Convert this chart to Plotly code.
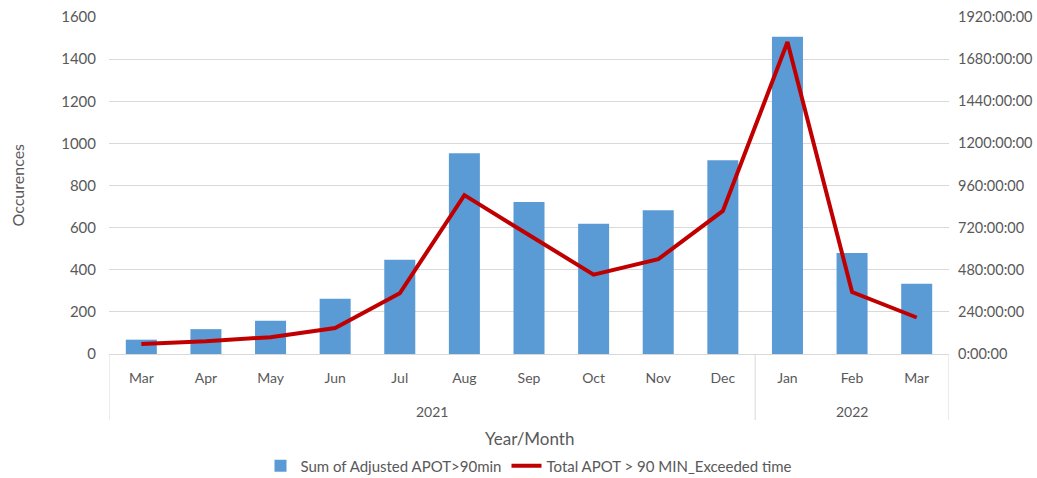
import plotly.graph_objects as go

years = ["2021"] * 10 + ["2022"] * 3
months = ["Mar", "Apr", "May", "Jun", "Jul", "Aug", "Sep", "Oct", "Nov", "Dec", "Jan", "Feb", "Mar"]
occurrences = [68, 118, 158, 262, 447, 953, 722, 618, 683, 920, 1506, 480, 333]
exceeded_hours = [57, 72, 96, 148, 346, 905, 678, 452, 540, 815, 1778, 353, 208]
right_ticks = [0, 240, 480, 720, 960, 1200, 1440, 1680, 1920]
left_ticks = [0, 200, 400, 600, 800, 1000, 1200, 1400, 1600]

FONT = "Lato, Open Sans, sans-serif"
GRAY = "#595959"
GRID = "#D9D9D9"

W, H = 1037, 478
L, R, T, B = 109, 88, 17, 124
plot_h = H - T - B

cats = [f"{m} {y}" for m, y in zip(months, years)]

fig = go.Figure()
fig.add_trace(go.Bar(
    x=cats, y=occurrences,
    name="Sum of Adjusted APOT>90min",
    marker=dict(color="#5B9BD5", line=dict(width=0)),
    width=0.48,
))
fig.add_trace(go.Scatter(
    x=cats, y=exceeded_hours,
    name="Total APOT > 90 MIN_Exceeded time",
    mode="lines", line=dict(color="#C00000", width=4),
    yaxis="y2",
))

# year group labels and dividers derived from the data
groups = []
for i, y in enumerate(years):
    if not groups or groups[-1][0] != y:
        groups.append([y, i, i])
    else:
        groups[-1][2] = i

div_bottom = -(420 - (H - B)) / plot_h
shapes = []
annotations = []
bounds = sorted({g[1] - 0.5 for g in groups} | {groups[-1][2] + 0.5})
for b in bounds:
    shapes.append(dict(type="line", xref="x", yref="paper", x0=b, x1=b, y0=0, y1=div_bottom,
                       line=dict(color=GRID, width=1)))
for y, i0, i1 in groups:
    annotations.append(dict(text=y, xref="x", yref="paper", x=(i0 + i1) / 2,
                            y=-(411 - (H - B)) / plot_h, yanchor="middle", showarrow=False,
                            font=dict(size=14, color=GRAY)))
annotations.append(dict(text="Year/Month", xref="paper", yref="paper", x=0.5,
                        y=-(438 - (H - B)) / plot_h, yanchor="middle", showarrow=False,
                        font=dict(size=17, color=GRAY)))
annotations.append(dict(text="Occurences", xref="paper", yref="paper",
                        x=(17 - L) / (W - L - R), y=0.5, xanchor="center", yanchor="middle",
                        textangle=-90, showarrow=False, font=dict(size=16, color=GRAY)))

fig.update_layout(
    width=W, height=H,
    margin=dict(l=L, r=R, t=T, b=B, autoexpand=False),
    paper_bgcolor="white", plot_bgcolor="white",
    font=dict(family=FONT, color=GRAY, size=14),
    showlegend=True,
    legend=dict(orientation="h", x=0.5, xanchor="center",
                y=-(466 - (H - B)) / plot_h, yanchor="middle",
                font=dict(size=15, color=GRAY), traceorder="normal"),
    shapes=shapes,
    annotations=annotations,
    xaxis=dict(
        type="category", tickvals=cats, ticktext=months,
        range=[-0.5, len(cats) - 0.5],
        showline=True, linecolor=GRID, linewidth=1,
        ticks="", ticklabelstandoff=11,
        tickfont=dict(size=14, color=GRAY),
        showgrid=False, automargin=False,
    ),
    yaxis=dict(
        range=[0, 1600], tickvals=left_ticks,
        showgrid=True, gridcolor=GRID, gridwidth=1,
        zeroline=False, showline=False,
        tickfont=dict(size=15, color=GRAY),
        ticks="", ticklabelstandoff=12, automargin=False,
    ),
    yaxis2=dict(
        overlaying="y", side="right",
        range=[0, 1920], tickvals=right_ticks,
        ticktext=[f"{h}:00:00" for h in right_ticks],
        showgrid=False, zeroline=False, showline=False,
        tickfont=dict(size=14.5, color=GRAY),
        ticks="", ticklabelstandoff=8, automargin=False,
    ),
)

fig.write_html("out.html", config={"displayModeBar": False},
               post_script="document.body.style.margin='0';document.body.style.overflow='hidden';")
